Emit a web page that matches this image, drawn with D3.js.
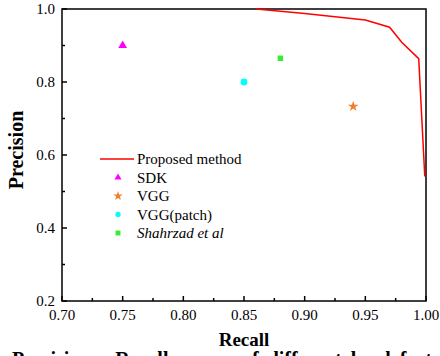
<!DOCTYPE html>
<html>
<head>
<meta charset="utf-8">
<script src="https://cdn.jsdelivr.net/npm/d3@7/dist/d3.min.js"></script>
<style>
  body { margin: 0; background: #fff; }
  svg { display: block; font-family: "Liberation Serif", "Times New Roman", serif; }
</style>
</head>
<body>
<div id="chart"></div>
<script>
// curve of the proposed method
const curveRecall = [0.86, 0.90, 0.95, 0.97, 0.98, 0.994, 0.999];
const curvePrecision = [1.0, 0.988, 0.970, 0.950, 0.909, 0.864, 0.541];

// single-point methods
const methods = ['SDK', 'VGG', 'VGG(patch)', 'Shahrzad et al'];
const methodRecall = [0.75, 0.94, 0.85, 0.88];
const methodPrecision = [0.90, 0.733, 0.80, 0.865];

const xTicks = [0.70, 0.75, 0.80, 0.85, 0.90, 0.95, 1.00];
const yTicks = [0.2, 0.4, 0.6, 0.8, 1.0];

const W = 440, H = 356;
const margin = { top: 9, right: 14, bottom: 55, left: 62 };
const width = W - margin.left - margin.right;
const height = H - margin.top - margin.bottom;

const svg = d3.select('#chart').append('svg').attr('width', W).attr('height', H);
const g = svg.append('g').attr('transform', 'translate(' + margin.left + ',' + margin.top + ')');

const x = d3.scaleLinear().domain([0.70, 1.00]).range([0, width]);
const y = d3.scaleLinear().domain([0.2, 1.0]).range([height, 0]);

const styles = [
  { type: d3.symbolTriangle, color: '#ff00ff', size: 34, legSize: 22 },
  { type: d3.symbolStar, color: '#f07f2c', size: 36, legSize: 28 },
  { type: d3.symbolCircle, color: '#00ffff', size: 36, legSize: 22 },
  { type: d3.symbolSquare, color: '#33ee33', size: 30, legSize: 24 }
];

// frame
g.append('rect').attr('width', width).attr('height', height)
  .attr('fill', 'none').attr('stroke', '#000').attr('stroke-width', 1.5);

// x axis (ticks inward)
const minorX = d3.range(0, 12).map(i => 0.725 + i * 0.05).filter(v => v < 1.0);
const xAxis = g.append('g').attr('transform', 'translate(0,' + height + ')');
xAxis.selectAll('line.major').data(xTicks).join('line').attr('class', 'major')
  .attr('x1', d => x(d)).attr('x2', d => x(d)).attr('y1', 0).attr('y2', -5)
  .attr('stroke', '#000').attr('stroke-width', 1.5);
xAxis.selectAll('line.minor').data(minorX).join('line').attr('class', 'minor')
  .attr('x1', d => x(d)).attr('x2', d => x(d)).attr('y1', 0).attr('y2', -3)
  .attr('stroke', '#000').attr('stroke-width', 1.5);
xAxis.selectAll('text').data(xTicks).join('text')
  .attr('x', d => x(d)).attr('y', 19).attr('text-anchor', 'middle')
  .attr('font-size', 15).text(d => d3.format('.2f')(d));

// y axis
const minorY = [0.3, 0.5, 0.7, 0.9];
const yAxis = g.append('g');
yAxis.selectAll('line.major').data(yTicks).join('line').attr('class', 'major')
  .attr('y1', d => y(d)).attr('y2', d => y(d)).attr('x1', 0).attr('x2', 5)
  .attr('stroke', '#000').attr('stroke-width', 1.5);
yAxis.selectAll('line.minor').data(minorY).join('line').attr('class', 'minor')
  .attr('y1', d => y(d)).attr('y2', d => y(d)).attr('x1', 0).attr('x2', 3)
  .attr('stroke', '#000').attr('stroke-width', 1.5);
yAxis.selectAll('text').data(yTicks).join('text')
  .attr('x', -7).attr('y', d => y(d) + 5).attr('text-anchor', 'end')
  .attr('font-size', 15).text(d => d3.format('.1f')(d));

// curve
const curve = curveRecall.map((r, i) => [r, curvePrecision[i]]);
g.append('path').datum(curve)
  .attr('d', d3.line().x(d => x(d[0])).y(d => y(d[1])))
  .attr('fill', 'none').attr('stroke', '#ff0000').attr('stroke-width', 1.5);

// points
methods.forEach((m, i) => {
  g.append('path')
    .attr('d', d3.symbol().type(styles[i].type).size(styles[i].size))
    .attr('transform', 'translate(' + x(methodRecall[i]) + ',' + y(methodPrecision[i]) + ')')
    .attr('fill', styles[i].color);
});

// legend
const leg = svg.append('g').attr('transform', 'translate(100,159)');
leg.append('line').attr('x1', 0).attr('x2', 34).attr('y1', 0).attr('y2', 0)
  .attr('stroke', '#ff0000').attr('stroke-width', 1.5);
leg.append('text').attr('x', 37).attr('y', 5).attr('font-size', 15).text('Proposed method');
methods.forEach((m, i) => {
  const yy = 18.5 * (i + 1);
  leg.append('path')
    .attr('d', d3.symbol().type(styles[i].type).size(styles[i].legSize))
    .attr('transform', 'translate(18,' + yy + ')')
    .attr('fill', styles[i].color);
  leg.append('text').attr('x', 37).attr('y', yy + 5).attr('font-size', 15)
    .attr('font-style', i === 3 ? 'italic' : 'normal').text(m);
});

// axis titles
svg.append('text').attr('x', 244).attr('y', 346).attr('text-anchor', 'middle')
  .attr('font-size', 19).attr('font-weight', 'bold').text('Recall');
svg.append('text').attr('transform', 'translate(23,150) rotate(-90)')
  .attr('text-anchor', 'middle').attr('font-size', 20).attr('font-weight', 'bold').text('Precision');

// caption, cut off at the bottom edge as in the source image
svg.append('text').attr('x', 12).attr('y', 366).attr('font-size', 20).attr('font-weight', 'bold')
  .attr('word-spacing', 4).text('Precision - Recall curves of different local features');
</script>
</body>
</html>
